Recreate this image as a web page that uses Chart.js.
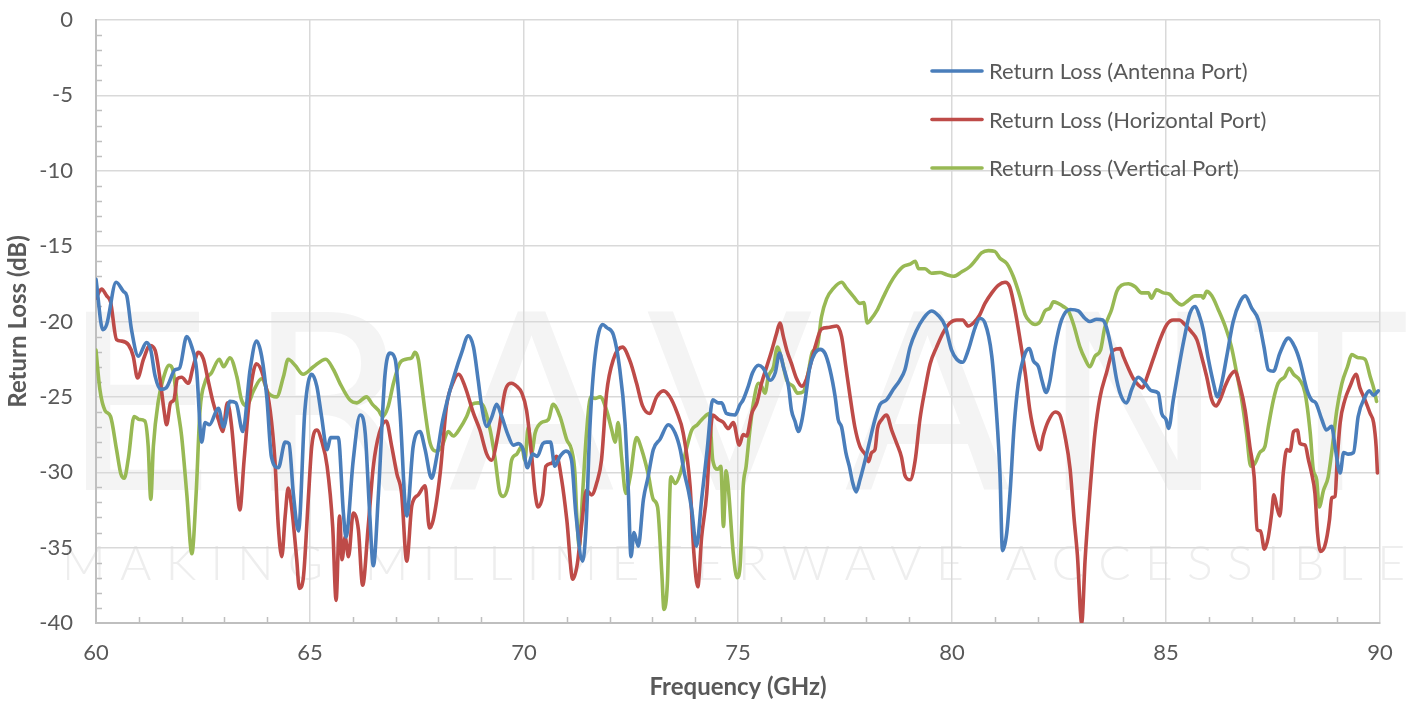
<!DOCTYPE html>
<html>
<head>
<meta charset="utf-8">
<script src="https://cdn.jsdelivr.net/npm/chart.js@4.4.1/dist/chart.umd.min.js"></script>
<style>
  html, body { margin: 0; padding: 0; background: #fff; }
</style>
</head>
<body>
<canvas id="chart" width="1409" height="702"></canvas>
<script>
// Axis ticks
const freqTicks = [60, 65, 70, 75, 80, 85, 90];
const lossTicks = [0, -5, -10, -15, -20, -25, -30, -35, -40];

// Return Loss (Antenna Port)
const antennaFreq = [
  60.00, 60.16, 60.25, 60.47, 60.64, 60.72, 60.83, 60.99, 61.18, 61.28, 61.38, 61.51, 61.64, 61.85, 61.95,
  62.12, 62.24, 62.35, 62.47, 62.55, 62.65, 62.86, 62.98, 63.13, 63.27, 63.43, 63.60, 63.75, 63.87, 63.99,
  64.10, 64.26, 64.42, 64.51, 64.61, 64.73, 64.88, 65.04, 65.16, 65.27, 65.40, 65.48, 65.66, 65.78, 65.84,
  66.01, 66.17, 66.29, 66.39, 66.48, 66.60, 66.75, 66.87, 66.99, 67.10, 67.26, 67.41, 67.57, 67.69, 67.84,
  67.96, 68.08, 68.23, 68.39, 68.54, 68.70, 68.82, 68.93, 69.01, 69.13, 69.24, 69.36, 69.48, 69.61, 69.75,
  69.87, 69.98, 70.08, 70.20, 70.31, 70.44, 70.53, 70.62, 70.72, 70.84, 70.98, 71.11, 71.21, 71.37, 71.45,
  71.54, 71.66, 71.84, 71.93, 72.09, 72.23, 72.36, 72.44, 72.50, 72.57, 72.67, 72.79, 72.90, 73.02, 73.18,
  73.37, 73.53, 73.65, 73.75, 73.84, 73.92, 74.03, 74.15, 74.28, 74.41, 74.54, 74.62, 74.73, 74.93, 75.05,
  75.12, 75.24, 75.34, 75.48, 75.59, 75.75, 75.87, 75.97, 76.06, 76.18, 76.25, 76.33, 76.41, 76.49, 76.57,
  76.68, 76.80, 76.92, 77.03, 77.15, 77.27, 77.34, 77.42, 77.52, 77.60, 77.68, 77.76, 77.85, 77.97, 78.08,
  78.20, 78.32, 78.47, 78.63, 78.78, 78.90, 79.02, 79.17, 79.33, 79.52, 79.68, 79.84, 79.99, 80.11, 80.25,
  80.38, 80.54, 80.65, 80.77, 80.93, 81.04, 81.12, 81.18, 81.28, 81.36, 81.45, 81.55, 81.71, 81.81, 81.90,
  82.02, 82.10, 82.20, 82.29, 82.41, 82.56, 82.76, 82.95, 83.11, 83.22, 83.38, 83.52, 83.61, 83.73, 83.85,
  83.96, 84.08, 84.20, 84.35, 84.51, 84.66, 84.82, 84.90, 85.00, 85.06, 85.17, 85.29, 85.42, 85.56, 85.68,
  85.79, 85.87, 85.99, 86.11, 86.20, 86.30, 86.42, 86.57, 86.73, 86.85, 87.00, 87.16, 87.29, 87.39, 87.51,
  87.66, 87.86, 88.01, 88.13, 88.29, 88.40, 88.50, 88.64, 88.75, 88.87, 88.95, 89.07, 89.15, 89.26, 89.38,
  89.49, 89.65, 89.75, 89.85, 89.96
];
const antennaLoss = [
  -17.2, -20.55, -20.2, -17.4, -18.0, -18.3, -20.55, -22.3, -21.4, -21.9, -23.6, -24.5, -24.4, -23.2, -23.1,
  -21.0, -21.7, -23.2, -28.0, -26.7, -26.85, -25.75, -27.0, -25.3, -25.4, -27.3, -23.2, -21.3, -22.3, -25.0,
  -29.0, -29.7, -28.0, -28.1, -31.4, -33.9, -25.9, -23.5, -24.3, -26.3, -28.5, -27.7, -27.7, -32.7, -34.3,
  -29.2, -26.2, -27.4, -32.5, -36.2, -31.4, -23.6, -22.1, -22.5, -25.9, -32.9, -28.3, -27.3, -28.5, -30.4,
  -29.0, -26.85, -25.0, -23.4, -22.1, -20.95, -21.7, -23.9, -25.6, -26.96, -26.4, -25.5, -26.3, -27.4, -28.2,
  -28.1, -28.5, -29.7, -28.8, -28.95, -28.1, -28.0, -28.0, -29.6, -28.95, -28.6, -29.2, -32.7, -35.9, -33.6,
  -27.0, -22.3, -20.2, -20.4, -20.9, -23.0, -26.7, -31.4, -35.6, -34.0, -34.9, -31.8, -30.3, -28.5, -27.8,
  -26.85, -27.4, -28.5, -30.1, -31.2, -32.5, -34.9, -31.8, -28.5, -25.2, -25.4, -25.4, -26.1, -26.2, -25.5,
  -25.2, -24.3, -23.4, -22.9, -23.1, -23.9, -23.4, -22.1, -23.0, -24.3, -25.9, -26.6, -27.3, -26.6, -25.2,
  -23.0, -22.1, -21.85, -22.1, -23.2, -25.0, -26.5, -27.0, -28.7, -29.6, -30.7, -31.3, -30.5, -29.2, -27.9,
  -26.5, -25.5, -25.2, -24.5, -23.9, -23.2, -21.7, -20.6, -19.8, -19.3, -19.6, -20.3, -21.9, -22.5, -22.7,
  -21.9, -20.4, -19.8, -20.1, -22.3, -26.1, -30.05, -35.2, -34.0, -31.2, -27.0, -24.1, -22.1, -21.8, -22.6,
  -23.0, -23.9, -24.7, -23.9, -21.7, -19.9, -19.2, -19.3, -19.8, -20.0, -19.85, -19.9, -20.4, -21.9, -23.9,
  -25.0, -25.4, -24.5, -23.7, -24.1, -24.6, -24.75, -26.1, -26.5, -27.1, -25.2, -23.2, -21.2, -19.45, -19.0,
  -19.7, -20.55, -22.5, -24.1, -25.0, -24.1, -22.3, -20.0, -18.7, -18.3, -19.1, -19.9, -21.7, -23.2, -23.3,
  -22.1, -21.1, -21.7, -22.65, -24.5, -25.2, -25.4, -26.5, -27.2, -26.95, -28.3, -30.05, -28.7, -28.8, -28.7,
  -26.3, -25.0, -24.6, -24.9, -24.6
];

// Return Loss (Horizontal Port)
const horizontalFreq = [
  60.00, 60.13, 60.25, 60.34, 60.48, 60.60, 60.76, 60.87, 60.97, 61.11, 61.26, 61.38, 61.50, 61.59, 61.65,
  61.74, 61.82, 61.90, 62.00, 62.16, 62.27, 62.39, 62.51, 62.62, 62.74, 62.86, 62.96, 63.07, 63.17, 63.29,
  63.36, 63.46, 63.60, 63.75, 63.91, 64.07, 64.18, 64.26, 64.34, 64.42, 64.49, 64.57, 64.69, 64.75, 64.84,
  64.96, 65.04, 65.16, 65.27, 65.40, 65.53, 65.61, 65.69, 65.75, 65.82, 65.90, 66.01, 66.13, 66.23, 66.36,
  66.48, 66.62, 66.78, 66.91, 67.03, 67.14, 67.26, 67.38, 67.53, 67.69, 67.79, 67.88, 68.04, 68.19, 68.35,
  68.47, 68.62, 68.82, 68.97, 69.13, 69.24, 69.40, 69.56, 69.71, 69.83, 69.95, 70.06, 70.16, 70.26, 70.33,
  70.44, 70.51, 70.65, 70.76, 70.88, 71.00, 71.14, 71.25, 71.35, 71.46, 71.58, 71.70, 71.81, 71.93, 72.09,
  72.30, 72.48, 72.63, 72.77, 72.93, 73.10, 73.26, 73.41, 73.57, 73.72, 73.88, 73.97, 74.06, 74.15, 74.27,
  74.35, 74.41, 74.54, 74.66, 74.77, 74.89, 75.03, 75.12, 75.20, 75.32, 75.44, 75.55, 75.67, 75.79, 75.90,
  75.98, 76.06, 76.14, 76.25, 76.37, 76.49, 76.59, 76.68, 76.80, 76.95, 77.11, 77.31, 77.42, 77.52, 77.62,
  77.73, 77.85, 77.97, 78.05, 78.12, 78.20, 78.26, 78.36, 78.47, 78.59, 78.71, 78.82, 78.90, 79.02, 79.14,
  79.25, 79.37, 79.49, 79.64, 79.80, 79.95, 80.11, 80.25, 80.38, 80.50, 80.64, 80.77, 80.93, 81.08, 81.24,
  81.35, 81.47, 81.59, 81.71, 81.82, 81.94, 82.06, 82.13, 82.25, 82.41, 82.52, 82.64, 82.76, 82.85, 82.93,
  83.03, 83.11, 83.22, 83.34, 83.46, 83.61, 83.77, 83.93, 84.00, 84.12, 84.24, 84.35, 84.45, 84.56, 84.70,
  84.86, 85.02, 85.17, 85.31, 85.44, 85.60, 85.72, 85.83, 85.95, 86.07, 86.17, 86.26, 86.38, 86.50, 86.61,
  86.73, 86.85, 86.96, 87.06, 87.13, 87.21, 87.30, 87.39, 87.47, 87.52, 87.59, 87.66, 87.74, 87.82, 87.90,
  87.98, 88.07, 88.13, 88.25, 88.33, 88.40, 88.48, 88.54, 88.61, 88.71, 88.82, 88.87, 88.95, 89.00, 89.07,
  89.18, 89.30, 89.44, 89.53, 89.65, 89.77, 89.85, 89.91, 89.94
];
const horizontalLoss = [
  -18.45, -17.85, -18.3, -18.7, -21.2, -21.3, -21.55, -22.3, -23.75, -22.5, -21.6, -21.9, -23.9, -25.9, -26.85,
  -25.4, -25.2, -23.8, -23.7, -24.1, -23.0, -22.05, -22.5, -23.9, -25.4, -26.5, -27.3, -25.4, -27.0, -30.9,
  -32.5, -29.2, -24.75, -22.8, -23.65, -25.9, -29.2, -33.6, -35.6, -32.9, -31.05, -32.3, -35.8, -37.7, -37.1,
  -31.8, -28.3, -27.2, -27.9, -29.6, -33.6, -38.5, -32.9, -35.8, -34.3, -35.6, -32.7, -33.8, -37.5, -33.6,
  -29.6, -27.4, -26.6, -28.3, -30.1, -31.4, -35.9, -32.2, -31.5, -30.9, -33.7, -33.15, -30.1, -25.6, -24.0,
  -23.5, -24.3, -26.1, -27.2, -28.8, -29.2, -27.4, -24.6, -24.1, -24.3, -24.75, -25.9, -28.3, -31.4, -32.3,
  -31.5, -29.6, -29.4, -28.95, -30.5, -33.15, -37.1, -36.0, -33.4, -31.2, -31.5, -30.7, -29.2, -24.75, -22.5,
  -21.7, -22.65, -24.1, -25.6, -26.1, -25.0, -24.6, -25.0, -26.0, -27.4, -30.9, -35.4, -37.6, -34.3, -31.4,
  -27.6, -26.2, -26.5, -26.7, -27.1, -26.7, -28.2, -27.5, -27.6, -26.1, -25.4, -24.1, -23.0, -21.9, -20.8,
  -20.1, -21.0, -21.9, -22.8, -23.8, -24.3, -23.9, -23.0, -21.7, -20.5, -20.4, -20.3, -21.0, -23.0, -25.0,
  -27.0, -28.3, -28.8, -29.3, -28.7, -28.5, -27.1, -26.5, -26.2, -27.2, -28.1, -29.0, -30.2, -30.5, -29.2,
  -26.5, -24.5, -22.8, -21.7, -20.7, -20.1, -19.9, -19.9, -20.3, -20.1, -19.6, -18.8, -18.1, -17.6, -17.4,
  -17.7, -19.2, -21.2, -23.4, -25.9, -27.6, -28.5, -27.6, -26.6, -26.0, -26.2, -27.6, -29.8, -33.0, -35.5,
  -40.0, -35.8, -31.4, -27.4, -25.0, -23.4, -21.9, -21.8, -22.3, -23.1, -23.8, -24.2, -24.4, -23.65, -22.5,
  -21.2, -20.2, -19.9, -19.9, -20.2, -20.7, -21.2, -22.3, -23.65, -25.2, -25.6, -25.2, -24.3, -23.6, -23.3,
  -24.3, -25.9, -28.3, -30.3, -33.8, -33.9, -35.1, -34.3, -32.7, -31.5, -32.3, -32.9, -30.05, -28.5, -28.6,
  -27.3, -27.2, -28.1, -28.2, -29.2, -30.05, -31.4, -34.0, -35.25, -34.9, -33.15, -31.7, -31.6, -29.2, -26.7,
  -25.2, -24.3, -23.5, -24.4, -25.2, -26.1, -26.7, -28.3, -30.05
];

// Return Loss (Vertical Port)
const verticalFreq = [
  60.00, 60.09, 60.21, 60.34, 60.48, 60.58, 60.66, 60.76, 60.89, 61.01, 61.14, 61.22, 61.28, 61.34, 61.46,
  61.57, 61.71, 61.81, 61.90, 62.00, 62.12, 62.24, 62.34, 62.43, 62.55, 62.70, 62.88, 62.98, 63.13, 63.29,
  63.40, 63.52, 63.68, 63.87, 64.03, 64.22, 64.38, 64.49, 64.65, 64.84, 65.08, 65.37, 65.55, 65.70, 65.93,
  66.09, 66.32, 66.46, 66.60, 66.70, 66.83, 66.95, 67.09, 67.24, 67.38, 67.45, 67.53, 67.60, 67.69, 67.80,
  67.96, 68.08, 68.23, 68.35, 68.50, 68.66, 68.78, 68.93, 69.05, 69.21, 69.32, 69.44, 69.52, 69.63, 69.71,
  69.83, 69.95, 70.02, 70.10, 70.18, 70.26, 70.41, 70.57, 70.68, 70.84, 71.00, 71.11, 71.19, 71.23, 71.29,
  71.37, 71.46, 71.56, 71.66, 71.78, 71.93, 72.05, 72.13, 72.20, 72.28, 72.38, 72.48, 72.63, 72.75, 72.90,
  73.02, 73.12, 73.22, 73.27, 73.35, 73.43, 73.53, 73.65, 73.79, 73.92, 74.05, 74.19, 74.33, 74.41, 74.53,
  74.60, 74.66, 74.72, 74.77, 74.89, 74.98, 75.05, 75.12, 75.19, 75.27, 75.36, 75.48, 75.55, 75.63, 75.71,
  75.83, 75.92, 76.02, 76.14, 76.29, 76.39, 76.53, 76.64, 76.74, 76.85, 76.95, 77.07, 77.23, 77.42, 77.54,
  77.70, 77.85, 77.94, 78.02, 78.12, 78.24, 78.40, 78.55, 78.71, 78.86, 79.02, 79.14, 79.22, 79.37, 79.52,
  79.72, 79.88, 80.03, 80.23, 80.42, 80.56, 80.69, 80.85, 81.00, 81.12, 81.28, 81.43, 81.59, 81.71, 81.82,
  81.94, 82.06, 82.17, 82.29, 82.37, 82.48, 82.60, 82.72, 82.84, 82.99, 83.11, 83.22, 83.34, 83.47, 83.57,
  83.73, 83.85, 83.96, 84.12, 84.28, 84.43, 84.59, 84.66, 84.78, 84.94, 85.09, 85.21, 85.37, 85.52, 85.68,
  85.83, 85.87, 85.95, 86.07, 86.22, 86.38, 86.53, 86.65, 86.77, 86.88, 86.98, 87.08, 87.19, 87.31, 87.39,
  87.51, 87.62, 87.78, 87.88, 87.98, 88.13, 88.25, 88.37, 88.44, 88.52, 88.58, 88.68, 88.79, 88.87, 88.99,
  89.11, 89.24, 89.34, 89.49, 89.65, 89.77, 89.86, 89.92
];
const verticalLoss = [
  -21.9, -24.5, -25.9, -26.3, -28.5, -30.1, -30.4, -29.0, -26.3, -26.5, -26.6, -28.3, -31.8, -28.3, -25.2,
  -23.8, -22.9, -23.4, -25.6, -27.6, -31.4, -35.4, -31.4, -25.9, -24.0, -23.4, -22.5, -23.0, -22.4, -23.65,
  -25.2, -25.6, -24.6, -23.8, -24.75, -25.0, -23.65, -22.5, -22.9, -23.5, -23.0, -22.5, -23.2, -24.1, -25.2,
  -25.4, -25.0, -25.5, -25.9, -26.3, -25.6, -24.1, -22.8, -22.5, -22.4, -22.05, -22.5, -24.0, -26.0, -28.0,
  -28.6, -28.3, -27.3, -27.6, -27.1, -26.3, -25.5, -25.4, -25.6, -27.2, -29.0, -31.4, -31.6, -30.9, -29.2,
  -28.8, -28.3, -29.2, -27.0, -28.7, -27.4, -26.7, -26.5, -25.5, -26.3, -27.85, -28.5, -30.1, -32.7, -34.9,
  -31.4, -27.4, -25.0, -25.1, -25.0, -25.9, -27.2, -28.0, -26.7, -29.0, -31.4, -30.3, -27.7, -28.5, -30.1,
  -31.8, -32.3, -36.7, -39.1, -37.35, -30.3, -30.75, -30.1, -28.5, -27.2, -26.85, -26.4, -26.1, -29.2, -29.8,
  -29.6, -33.6, -29.9, -30.9, -35.4, -37.0, -36.2, -31.0, -29.6, -27.4, -25.4, -24.1, -24.3, -24.75, -23.65,
  -23.0, -21.7, -22.5, -23.9, -24.3, -24.75, -24.65, -23.4, -22.0, -21.7, -19.7, -18.5, -17.8, -17.4, -17.8,
  -18.35, -18.8, -18.75, -20.1, -19.8, -19.3, -18.35, -17.5, -16.8, -16.35, -16.2, -16.0, -16.5, -16.5, -16.8,
  -16.75, -16.9, -17.0, -16.7, -16.35, -15.9, -15.45, -15.3, -15.35, -15.8, -16.15, -17.0, -18.35, -19.55, -20.0,
  -20.2, -20.0, -19.3, -19.1, -18.7, -18.8, -19.0, -19.3, -20.2, -21.7, -22.5, -23.0, -22.3, -21.9, -20.4,
  -19.2, -18.0, -17.6, -17.5, -17.7, -18.1, -18.1, -18.45, -17.9, -18.1, -18.2, -18.6, -18.9, -18.6, -18.3,
  -18.3, -18.45, -18.0, -18.3, -19.2, -20.3, -21.7, -23.4, -25.2, -27.4, -29.6, -29.4, -28.7, -28.3, -27.0,
  -25.2, -24.1, -23.65, -23.1, -23.5, -23.9, -24.75, -27.4, -29.8, -30.5, -32.3, -31.2, -30.3, -28.7, -25.9,
  -24.1, -23.0, -22.2, -22.4, -22.5, -23.65, -24.5, -25.3
];

const FONT = 'Lato, "Open Sans", "DejaVu Sans", sans-serif';
const TEXT_GRAY = '#595959';

function toPoints(xs, ys) {
  return xs.map((x, i) => ({ x: x, y: ys[i] }));
}

// faint company watermark behind the plot
const watermark = {
  id: 'watermark',
  beforeDraw(chart) {
    const ctx = chart.ctx;
    ctx.save();
    ctx.fillStyle = '#f4f4f4';
    ctx.textBaseline = 'alphabetic';
    spreadText(ctx, 'ERAVANT', '245px "DejaVu Sans"', 62, 1405, 490);
    ctx.fillStyle = '#eeeeee';
    spreadText(ctx, 'MAKING MILLIMETERWAVE ACCESSIBLE', '300 48px ' + FONT, 62, 1405, 580);
    ctx.restore();
  }
};

function spreadText(ctx, text, font, x0, x1, y) {
  ctx.font = font;
  const chars = text.split('');
  const widths = chars.map(c => ctx.measureText(c).width);
  const total = widths.reduce((a, b) => a + b, 0);
  const gap = (x1 - x0 - total) / (chars.length - 1);
  let x = x0;
  ctx.textAlign = 'left';
  chars.forEach((c, i) => {
    ctx.fillText(c, x, y);
    x += widths[i] + gap;
  });
}

// small inner ticks between the gridlines
const minorTicks = {
  id: 'minorTicks',
  beforeDatasetsDraw(chart) {
    const { ctx, chartArea, scales } = chart;
    ctx.save();
    ctx.strokeStyle = '#bfbfbf';
    ctx.lineWidth = 1.5;
    ctx.beginPath();
    for (let v = freqTicks[0] + 1; v < freqTicks[freqTicks.length - 1]; v++) {
      if (freqTicks.includes(v)) continue;
      const px = Math.round(scales.x.getPixelForValue(v)) + 0.5;
      ctx.moveTo(px, chartArea.bottom);
      ctx.lineTo(px, chartArea.bottom - 6);
    }
    for (let v = lossTicks[lossTicks.length - 1] + 1; v < lossTicks[0]; v++) {
      if (lossTicks.includes(v)) continue;
      const py = Math.round(scales.y.getPixelForValue(v)) + 0.5;
      ctx.moveTo(chartArea.left, py);
      ctx.lineTo(chartArea.left + 6, py);
    }
    ctx.stroke();
    ctx.restore();
  }
};

// legend drawn inside the plot, top right
const insideLegend = {
  id: 'insideLegend',
  afterDraw(chart) {
    const ctx = chart.ctx;
    ctx.save();
    ctx.font = '22px ' + FONT;
    ctx.textAlign = 'left';
    ctx.textBaseline = 'middle';
    chart.data.datasets.forEach((ds, i) => {
      const y = 71 + i * 48.5;
      ctx.strokeStyle = ds.borderColor;
      ctx.lineWidth = 3.6;
      ctx.lineCap = 'round';
      ctx.beginPath();
      ctx.moveTo(932, y);
      ctx.lineTo(982, y);
      ctx.stroke();
      ctx.fillStyle = TEXT_GRAY;
      ctx.fillText(ds.label, 989, y + 1);
    });
    ctx.restore();
  }
};

const lineStyle = {
  borderWidth: 3.6,
  pointRadius: 0,
  fill: false,
  cubicInterpolationMode: 'monotone',
  borderJoinStyle: 'round',
  borderCapStyle: 'round'
};

new Chart(document.getElementById('chart'), {
  type: 'line',
  data: {
    datasets: [
      Object.assign({
        label: 'Return Loss (Antenna Port)',
        data: toPoints(antennaFreq, antennaLoss),
        borderColor: '#4a7ebb'
      }, lineStyle),
      Object.assign({
        label: 'Return Loss (Horizontal Port)',
        data: toPoints(horizontalFreq, horizontalLoss),
        borderColor: '#be4b48'
      }, lineStyle),
      Object.assign({
        label: 'Return Loss (Vertical Port)',
        data: toPoints(verticalFreq, verticalLoss),
        borderColor: '#98b954'
      }, lineStyle)
    ]
  },
  options: {
    responsive: false,
    animation: false,
    layout: { padding: { top: 20, right: 29, left: 0, bottom: 0 } },
    plugins: {
      legend: { display: false },
      tooltip: { enabled: false }
    },
    scales: {
      x: {
        type: 'linear',
        min: freqTicks[0],
        max: freqTicks[freqTicks.length - 1],
        afterBuildTicks: (s) => { s.ticks = freqTicks.map(v => ({ value: v })); },
        afterFit: (s) => { s.height = 79; s.paddingLeft = 0; s.paddingRight = 0; },
        grid: { color: '#d9d9d9', lineWidth: 1.5, drawTicks: false },
        border: { color: '#bfbfbf', width: 2 },
        ticks: {
          color: TEXT_GRAY,
          font: { family: FONT, size: 22 },
          padding: 17,
          maxRotation: 0
        },
        title: {
          display: true,
          text: 'Frequency (GHz)',
          color: TEXT_GRAY,
          font: { family: FONT, size: 24, weight: 'bold' },
          padding: 0
        }
      },
      y: {
        type: 'linear',
        min: lossTicks[lossTicks.length - 1],
        max: lossTicks[0],
        afterBuildTicks: (s) => { s.ticks = lossTicks.map(v => ({ value: v })); },
        afterFit: (s) => { s.width = 96; s.paddingTop = 0; s.paddingBottom = 0; },
        grid: { color: '#d9d9d9', lineWidth: 1.5, drawTicks: false },
        border: { color: '#bfbfbf', width: 2 },
        ticks: {
          color: TEXT_GRAY,
          font: { family: FONT, size: 22 },
          padding: 23
        },
        title: {
          display: true,
          text: 'Return Loss (dB)',
          color: TEXT_GRAY,
          font: { family: FONT, size: 24, weight: 'bold' },
          padding: 4
        }
      }
    }
  },
  plugins: [watermark, minorTicks, insideLegend]
});
</script>
</body>
</html>
